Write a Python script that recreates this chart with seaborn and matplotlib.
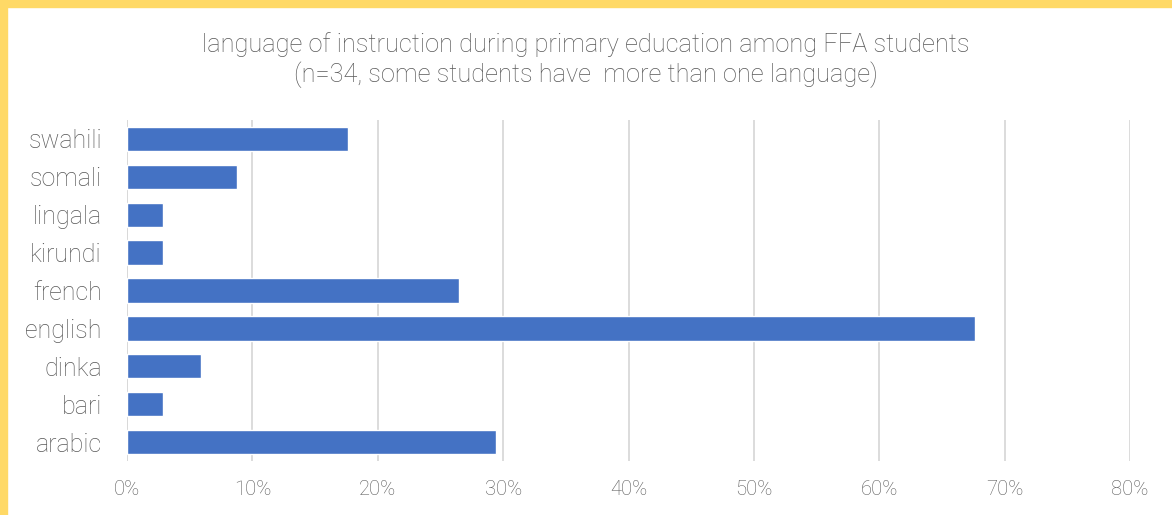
import matplotlib
matplotlib.use("Agg")
import matplotlib.pyplot as plt
import seaborn as sns
import pandas as pd
from matplotlib.ticker import PercentFormatter
from matplotlib.patches import Rectangle

languages = ["swahili", "somali", "lingala", "kirundi", "french", "english", "dinka", "bari", "arabic"]
shares = [17.6, 8.8, 2.9, 2.9, 26.5, 67.6, 5.9, 2.9, 29.4]
xticks = [0, 10, 20, 30, 40, 50, 60, 70, 80]

df = pd.DataFrame({"language": languages, "share": shares})

sns.set_style("white")
plt.rcParams["font.family"] = ["Roboto", "DejaVu Sans"]
text_col = "#595959"

fig = plt.figure(figsize=(11.72, 5.15), dpi=100)
ax = fig.add_axes([127/1172, 1 - 461/515, (1130-127)/1172, (461-120)/515])

sns.barplot(data=df, x="share", y="language", order=languages, color="#4472C4",
            width=0.64, saturation=1, ax=ax, zorder=3)

ax.set_xlim(0, 80)
ax.set_xticks(xticks)
ax.xaxis.set_major_formatter(PercentFormatter(decimals=0))
ax.grid(axis="x", color="#D9D9D9", linewidth=1.3, zorder=0)
ax.set_axisbelow(True)
for s in ax.spines.values():
    s.set_visible(False)
ax.axvline(0, color="#D9D9D9", linewidth=1.3, zorder=1)
ax.set_xlabel("")
ax.set_ylabel("")
ax.tick_params(axis="x", colors=text_col, labelsize=14.6, length=0, pad=14)
ax.tick_params(axis="y", colors=text_col, labelsize=18, length=0, pad=18)
for lbl in ax.get_xticklabels() + ax.get_yticklabels():
    lbl.set_fontweight("light")

fig.text(0.5, 1 - 45/515, "language of instruction during primary education among FFA students",
         ha="center", va="center", fontsize=18.3, color=text_col, fontweight="light")
fig.text(0.5, 1 - 75/515, "(n=34, some students have  more than one language)",
         ha="center", va="center", fontsize=18.3, color=text_col, fontweight="light")

# yellow frame strips (top and left)
fig.patches.append(Rectangle((0, 1 - 7/515), 1, 7/515, transform=fig.transFigure,
                             color="#FFD966", zorder=0))
fig.patches.append(Rectangle((0, 0), 7/1172, 1, transform=fig.transFigure,
                             color="#FFD966", zorder=0))

fig.savefig("out.png", dpi=100, facecolor="white")
